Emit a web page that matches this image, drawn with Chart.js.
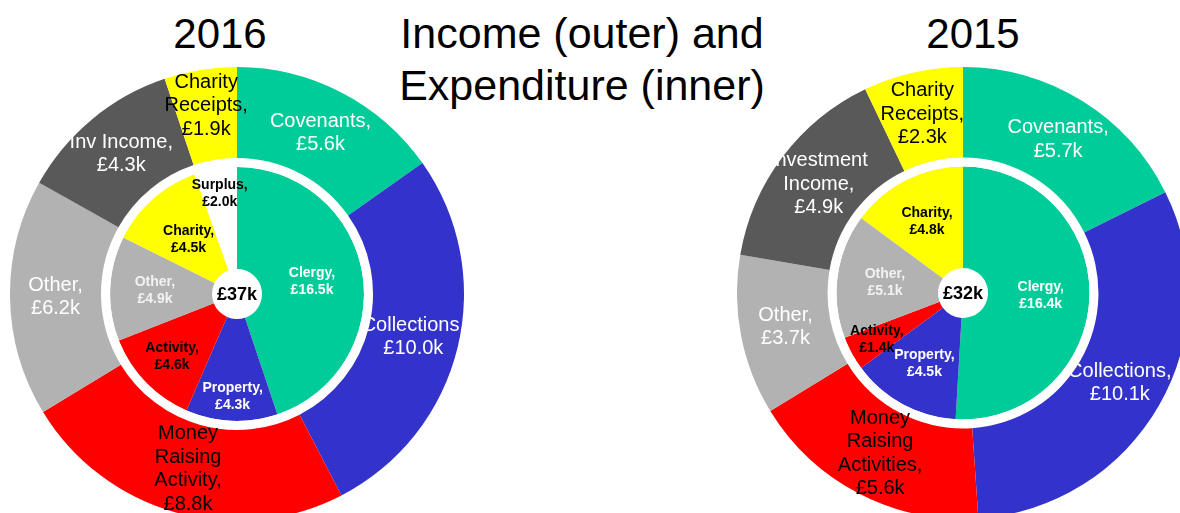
<!DOCTYPE html>
<html>
<head>
<meta charset="utf-8">
<script src="https://cdn.jsdelivr.net/npm/chart.js@4.4.1/dist/chart.umd.min.js"></script>
<style>
  html, body { margin: 0; padding: 0; background: #fff; }
  body { width: 1180px; height: 513px; overflow: hidden; position: relative; font-family: "Liberation Sans", Arial, sans-serif; }
  .ttl { position: absolute; color: #000; font-size: 42px; line-height: 42px; white-space: nowrap; transform: translateX(-50%); }
  #mainTitle { position: absolute; left: 582px; top: 7px; transform: translateX(-50%); font-size: 43px; line-height: 52px; text-align: center; white-space: nowrap; }
  canvas { position: absolute; }
</style>
</head>
<body>
<div class="ttl" style="left:220px; top:13px;">2016</div>
<div id="mainTitle">Income (outer) and<br>Expenditure (inner)</div>
<div class="ttl" style="left:973px; top:13px;">2015</div>
<canvas id="chart2016" width="454" height="454" style="left:10px; top:67px;"></canvas>
<canvas id="chart2015" width="452" height="452" style="left:737px; top:67px;"></canvas>
<script>
// * data 2016
const incomeCats2016 = ["Covenants", "Collections", "Money\nRaising\nActivity", "Other", "Inv Income", "Charity\nReceipts"];
const income2016 = [5.6, 10.0, 8.8, 6.2, 4.3, 1.9];
const expCats2016 = ["Clergy", "Property", "Activity", "Other", "Charity", "Surplus"];
const exp2016 = [16.5, 4.3, 4.6, 4.9, 4.5, 2.0];

// * data 2015
const incomeCats2015 = ["Covenants", "Collections", "Money\nRaising\nActivities", "Other", "Investment\nIncome", "Charity\nReceipts"];
const income2015 = [5.7, 10.1, 5.6, 3.7, 4.9, 2.3];
const expCats2015 = ["Clergy", "Property", "Activity", "Other", "Charity"];
const exp2015 = [16.4, 4.5, 1.4, 5.1, 4.8];

const green = "#00CC99";
const blue = "#3333CC";
const red = "#FF0000";
const lightGrey = "#B2B2B2";
const darkGrey = "#595959";
const yellow = "#FFFF00";

const incomeColors = [green, blue, red, lightGrey, darkGrey, yellow];
const incomeText = ["#fff", "#fff", "#000", "#fff", "#fff", "#000"];
const expColors = [green, blue, red, lightGrey, yellow, "#fff"];
const expText = ["#fff", "#fff", "#000", "#f2f2f2", "#000", "#000"];

const fmt = (v) => "£" + v.toFixed(1) + "k";

// ? labels inside the slices + total in the hole
const sliceLabels = {
  id: "sliceLabels",
  afterDatasetsDraw(chart) {
    const ctx = chart.ctx;
    ctx.save();
    ctx.textAlign = "center";
    ctx.textBaseline = "middle";
    chart.data.datasets.forEach((ds, di) => {
      if (!ds.cats) return;
      const meta = chart.getDatasetMeta(di);
      meta.data.forEach((arc, i) => {
        const mid = (arc.startAngle + arc.endAngle) / 2;
        const f = ds.labelPos[i];
        const r = arc.innerRadius + f * (arc.outerRadius - arc.innerRadius);
        const cx = arc.x + Math.cos(mid) * r;
        const cy = arc.y + Math.sin(mid) * r;
        const lines = (ds.cats[i] + ",").split("\n");
        lines.push(fmt(ds.data[i]));
        ctx.font = ds.labelFont;
        ctx.fillStyle = ds.textColors[i];
        const lh = ds.lineH;
        const top = cy - ((lines.length - 1) * lh) / 2;
        lines.forEach((ln, k) => ctx.fillText(ln, cx, top + k * lh));
      });
    });
    const total = chart.data.datasets[0].data.reduce((a, b) => a + b, 0);
    const m = chart.getDatasetMeta(0).data[0];
    ctx.font = "bold 18px 'Liberation Sans', Arial, sans-serif";
    ctx.fillStyle = "#000";
    ctx.fillText("£" + Math.round(total) + "k", m.x, m.y + 1);
    ctx.restore();
  },
};

function makeChart(id, incCats, inc, expCats, exp, incPos, expPos) {
  return new Chart(document.getElementById(id).getContext("2d"), {
    type: "doughnut",
    data: {
      labels: incCats,
      datasets: [
        {
          data: inc,
          backgroundColor: incomeColors,
          weight: 91,
          cats: incCats,
          textColors: incomeText,
          labelPos: incPos,
          labelFont: "20px 'Liberation Sans', Arial, sans-serif",
          lineH: 23.5,
        },
        {
          data: [1],
          backgroundColor: ["#fff"],
          weight: 9,
        },
        {
          data: exp,
          backgroundColor: expColors.slice(0, exp.length),
          weight: 102,
          cats: expCats,
          textColors: expText,
          labelPos: expPos,
          labelFont: "bold 14px 'Liberation Sans', Arial, sans-serif",
          lineH: 17,
        },
      ],
    },
    options: {
      responsive: false,
      animation: false,
      events: [],
      cutout: 25,
      borderWidth: 0,
      hoverOffset: 0,
      layout: { padding: 0 },
      plugins: {
        legend: { display: false },
        tooltip: { enabled: false },
        title: { display: false },
      },
    },
    plugins: [sliceLabels],
  });
}

makeChart("chart2016", incomeCats2016, income2016, expCats2016, exp2016,
  [0.5, 0.5, 0.5, 0.5, 0.5, 0.6],
  [0.5, 0.76, 0.64, 0.56, 0.47, 0.75]);
makeChart("chart2015", incomeCats2015, income2015, expCats2015, exp2015,
  [0.5, 0.5, 0.5, 0.5, 0.5, 0.53],
  [0.52, 0.55, 0.72, 0.53, 0.54]);
</script>
</body>
</html>
